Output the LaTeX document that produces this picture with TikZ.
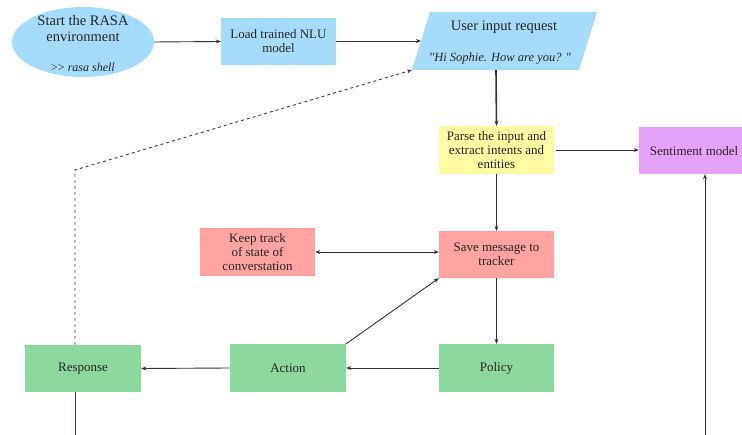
\documentclass[tikz,border=0pt]{standalone}
\usepackage{fontspec}
\setmainfont{Liberation Serif}
\usetikzlibrary{arrows.meta,shapes.geometric}
\definecolor{cblue}{HTML}{A5DCFC}
\definecolor{cyell}{HTML}{FFFBA2}
\definecolor{cpink}{HTML}{FFA2A2}
\definecolor{cgreen}{HTML}{8CD9A0}
\definecolor{cviol}{HTML}{E6A2FA}
\definecolor{cbrown}{HTML}{7A2E2A}
\tikzset{
  box/.style={rectangle, minimum width=116pt, minimum height=48pt, inner sep=2pt, align=center,
    font=\fontsize{13}{14}\selectfont, text=black!85},
  conn/.style={draw=black!80, line width=0.9pt, -{Stealth[length=5pt,width=4pt]}},
}
\begin{document}
\begin{tikzpicture}[x=1pt,y=-1pt]
\clip (0,0) rectangle (742,435);
\useasboundingbox (0,0) rectangle (742,435);
% ellipse
\node[ellipse, fill=cblue, minimum width=142pt, minimum height=70pt, inner sep=0pt] (start) at (83,42) {};
\node[align=center, font=\fontsize{14.5}{16}\selectfont, text=black!85] (starttxt) at (83,29) {Start the RASA\\environment};
\node[font=\fontsize{12}{13}\selectfont, text=black!85] (shell) at (83,67) {{>}{>} \textit{rasa shell}};
% load
\node[box, fill=cblue, minimum width=115pt, minimum height=47pt] (load) at (278.5,41.5) {Load trained NLU\\model};
% parallelogram
\fill[cblue] (430,12) -- (597,12) -- (579,70) -- (412,70) -- cycle;
\coordinate (uleft) at (421,41);
\coordinate (ucorner) at (412,70);
\coordinate (ubot) at (496,70);
\node[font=\fontsize{14.5}{16}\selectfont, text=black!85] (user) at (504,27) {User input request};
\node[font=\fontsize{12.5}{14}\selectfont, text=black!85] (hi) at (500,59) {\textit{\textquotedbl Hi Sophie. How are you? \textquotedbl}};
% parse
\node[box, fill=cyell, minimum width=115pt, minimum height=48pt] (parse) at (496.5,150) {Parse the input and\\extract intents and\\entities};
% sentiment
\node[box, fill=cviol, minimum width=112pt, minimum height=47pt] (sent) at (695,150.5) {};
\node[font=\fontsize{13}{14}\selectfont, text=black!85] (senttxt) at (694,151) {Sentiment model};
% save
\node[box, fill=cpink, minimum width=115pt, minimum height=47pt] (save) at (496.5,254.5) {Save message to\\tracker};
% keep
\node[box, fill=cpink, minimum width=115pt, minimum height=48pt] (keep) at (257.5,252) {Keep track\\of state of\\converstation};
% policy
\node[box, fill=cgreen, minimum width=115pt, minimum height=48pt] (policy) at (496.5,368) {Policy};
% action
\node[box, fill=cgreen, minimum width=116pt, minimum height=48pt] (action) at (288,368) {Action};
% response
\node[box, fill=cgreen, minimum width=116pt, minimum height=47pt] (resp) at (83,368.5) {Response};
% free ends
\coordinate (bendd) at (75,170);
\coordinate (respbot) at (75,440);
\coordinate (sentbot) at (705,440);
% connectors
\draw[conn] (start.east) -- (load.west);
\draw[conn] (load.east |- uleft) -- (uleft);
\draw[conn, line width=1.6pt] (ubot) -- (parse.north);
\draw[conn] ([xshift=2pt]parse.east) -- (sent.west |- parse.east);
\draw[conn] (sentbot) -- (sentbot |- sent.south);
\draw[conn] (parse.south) -- (save.north);
\draw[draw=black!80, line width=0.9pt, {Stealth[length=5pt,width=4pt]}-{Stealth[length=5pt,width=4pt]}] (keep.east) -- (keep.east -| save.west);
\draw[conn] (save.south) -- (policy.north);
\draw[conn] (policy.west) -- (action.east);
\draw[conn] (action.north east) -- (save.south west);
\draw[conn] (action.west) -- (resp.east);
\draw[conn, dashed, draw=black!75] ([xshift=-8pt]resp.north) -- (bendd) -- (ucorner);
\draw[draw=cbrown, line width=1pt] ([xshift=-8pt]resp.south) -- (respbot);
\end{tikzpicture}
\end{document}
